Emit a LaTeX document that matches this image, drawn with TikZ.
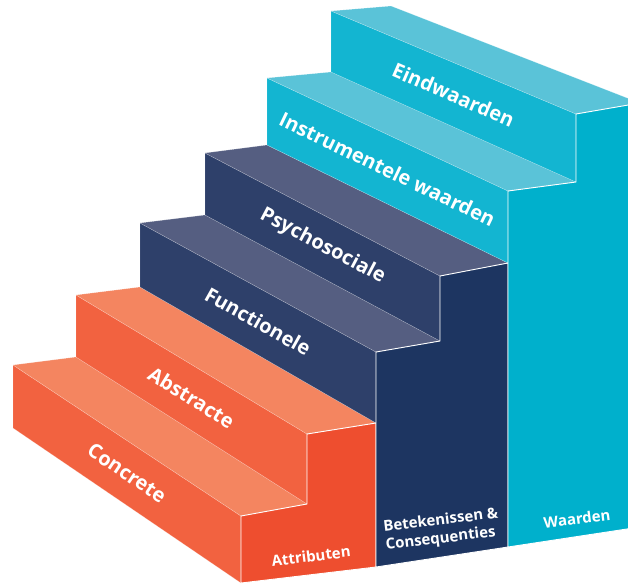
\documentclass[tikz,border=0pt]{standalone}
\usepackage{fontspec}
\setmainfont{Open Sans}
\usepackage{xcolor}
\usetikzlibrary{calc}

\definecolor{attrRiser}{HTML}{F26240}
\definecolor{attrTread}{HTML}{F48560}
\definecolor{attrSide}{HTML}{EE4E2F}
\definecolor{consRiser}{HTML}{2E406A}
\definecolor{consTread}{HTML}{555E81}
\definecolor{consSide}{HTML}{1D3561}
\definecolor{valRiser}{HTML}{13B5D1}
\definecolor{valTread}{HTML}{5AC3D8}
\definecolor{valSide}{HTML}{00B0CC}

\begin{document}
\begin{tikzpicture}[
  x=1pt, y=-1pt,
  edge/.style={draw=white, draw opacity=0.35, line width=0.4pt, line join=round},
  side/.style={draw=white, line width=0.9pt, line join=miter},
  steplabel/.style={text=white, sloped, inner sep=0pt, font=\fontsize{20}{24}\selectfont\bfseries},
  sidelabel/.style={text=white, rotate=7, align=left, inner sep=0pt, font=\fontsize{15}{18}\selectfont\bfseries}
]
  \useasboundingbox (0,0) rectangle (628,584);
  \clip (0,0) rectangle (628,584);

  % left end of the stairs
  \coordinate (l00) at (13,428);  \coordinate (l01) at (13,365);
  \coordinate (l11) at (76,357);  \coordinate (l12) at (76,295);
  \coordinate (l22) at (140,287); \coordinate (l23) at (140,223);
  \coordinate (l33) at (205,215); \coordinate (l34) at (205,153);
  \coordinate (l44) at (267,145); \coordinate (l45) at (267,78);
  \coordinate (l55) at (331,72);  \coordinate (l56) at (331,11);
  \coordinate (l66) at (391,6);
  % right end of the stairs
  \coordinate (r00) at (241,583); \coordinate (r01) at (241,516);
  \coordinate (r11) at (307,504); \coordinate (r12) at (307,434);
  \coordinate (r22) at (376,423); \coordinate (r23) at (376,352);
  \coordinate (r33) at (440,341); \coordinate (r34) at (440,276);
  \coordinate (r44) at (508,263); \coordinate (r45) at (508,191);
  \coordinate (r55) at (576,182); \coordinate (r56) at (576,114);
  \coordinate (r66) at (640,103);
  \coordinate (r20) at (376,567); \coordinate (r40) at (508,547);
  \coordinate (r60) at (640,527);

  % risers and treads
  \fill[attrRiser, edge] (l00) -- (r00) -- (r01) -- (l01) -- cycle;
  \fill[attrTread, edge] (l01) -- (r01) -- (r11) -- (l11) -- cycle;
  \fill[attrRiser, edge] (l11) -- (r11) -- (r12) -- (l12) -- cycle;
  \fill[attrTread, edge] (l12) -- (r12) -- (r22) -- (l22) -- cycle;
  \fill[consRiser, edge] (l22) -- (r22) -- (r23) -- (l23) -- cycle;
  \fill[consTread, edge] (l23) -- (r23) -- (r33) -- (l33) -- cycle;
  \fill[consRiser, edge] (l33) -- (r33) -- (r34) -- (l34) -- cycle;
  \fill[consTread, edge] (l34) -- (r34) -- (r44) -- (l44) -- cycle;
  \fill[valRiser, edge] (l44) -- (r44) -- (r45) -- (l45) -- cycle;
  \fill[valTread, edge] (l45) -- (r45) -- (r55) -- (l55) -- cycle;
  \fill[valRiser, edge] (l55) -- (r55) -- (r56) -- (l56) -- cycle;
  \fill[valTread, edge] (l56) -- (r56) -- (r66) -- (l66) -- cycle;

  % side walls
  \filldraw[attrSide, side] (r00) -- (r01) -- (r11) -- (r12) -- (r22) -- (r20) -- cycle;
  \filldraw[consSide, side] (r20) -- (r23) -- (r33) -- (r34) -- (r44) -- (r40) -- cycle;
  \filldraw[valSide, side] (r40) -- (r45) -- (r55) -- (r56) -- (r66) -- (r60) -- cycle;

  % step labels
  \path ($(l00)!.5!(l01)$) -- node[steplabel] (concrete) {Concrete} ($(r00)!.5!(r01)$);
  \path ($(l11)!.5!(l12)$) -- node[steplabel] (abstracte) {Abstracte} ($(r11)!.5!(r12)$);
  \path ($(l22)!.5!(l23)$) -- node[steplabel] (functionele) {Functionele} ($(r22)!.5!(r23)$);
  \path ($(l33)!.5!(l34)$) -- node[steplabel] (psychosociale) {Psychosociale} ($(r33)!.5!(r34)$);
  \path ($(l44)!.5!(l45)$) -- node[steplabel] (instrumentele) {Instrumentele waarden} ($(r44)!.5!(r45)$);
  \path ($(l55)!.5!(l56)$) -- node[steplabel] (eindwaarden) {Eindwaarden} ($(r55)!.5!(r56)$);

  % group labels
  \node[sidelabel] (attributen) at (311,556) {Attributen};
  \node[sidelabel] (betekenissen) at (442,530) {Betekenissen \&\\Consequenties};
  \node[sidelabel] (waarden) at (577,519) {Waarden};
\end{tikzpicture}
\end{document}
